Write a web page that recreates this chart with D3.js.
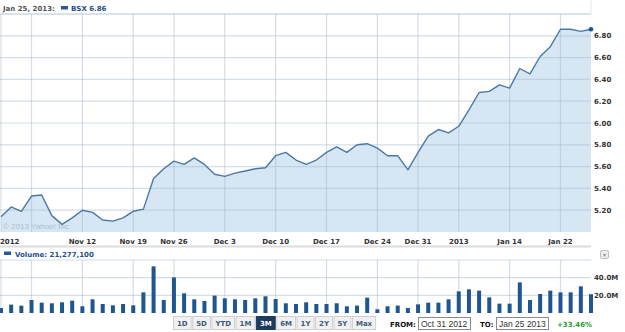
<!DOCTYPE html>
<html>
<head>
<meta charset="utf-8">
<script src="https://cdn.jsdelivr.net/npm/d3@7"></script>
<style>
  body { margin: 0; background: #fff; }
  svg { display: block; font-family: "DejaVu Sans", Verdana, sans-serif; }
  .lbl { font-size: 7px; font-weight: bold; fill: #333; }
</style>
</head>
<body>
<div id="chart"></div>
<script>
const width = 625;
const height = 332;

// trading days, Oct 31 2012 - Jan 25 2013
const dates = [
  '2012-10-31', '2012-11-01', '2012-11-02',
  '2012-11-05', '2012-11-06', '2012-11-07', '2012-11-08', '2012-11-09',
  '2012-11-12', '2012-11-13', '2012-11-14', '2012-11-15', '2012-11-16',
  '2012-11-19', '2012-11-20', '2012-11-21', '2012-11-23',
  '2012-11-26', '2012-11-27', '2012-11-28', '2012-11-29', '2012-11-30',
  '2012-12-03', '2012-12-04', '2012-12-05', '2012-12-06', '2012-12-07',
  '2012-12-10', '2012-12-11', '2012-12-12', '2012-12-13', '2012-12-14',
  '2012-12-17', '2012-12-18', '2012-12-19', '2012-12-20', '2012-12-21',
  '2012-12-24', '2012-12-26', '2012-12-27', '2012-12-28',
  '2012-12-31', '2013-01-02', '2013-01-03', '2013-01-04',
  '2013-01-07', '2013-01-08', '2013-01-09', '2013-01-10', '2013-01-11',
  '2013-01-14', '2013-01-15', '2013-01-16', '2013-01-17', '2013-01-18',
  '2013-01-22', '2013-01-23', '2013-01-24', '2013-01-25'
];

const prices = [
  5.14, 5.23, 5.19, 5.33, 5.34, 5.15, 5.07, 5.13, 5.20, 5.18,
  5.11, 5.10, 5.13, 5.19, 5.21, 5.49, 5.58, 5.65, 5.62, 5.68,
  5.62, 5.53, 5.51, 5.54, 5.56, 5.58, 5.59, 5.70, 5.73, 5.66,
  5.62, 5.66, 5.73, 5.78, 5.73, 5.80, 5.81, 5.77, 5.70, 5.70,
  5.57, 5.73, 5.88, 5.94, 5.91, 5.97, 6.12, 6.28, 6.29, 6.35,
  6.32, 6.50, 6.45, 6.61, 6.70, 6.86, 6.86, 6.84, 6.86
];

// millions of shares
const volumes = [
  5.6, 9.5, 8.3, 14.7, 11.7, 11.0, 12.1, 14.0, 7.6, 15.5,
  10.2, 8.7, 10.2, 8.7, 23.4, 52.8, 14.7, 40.3, 22.3, 15.5,
  13.6, 19.7, 16.6, 15.5, 14.7, 16.6, 18.9, 15.8, 11.0, 10.2,
  12.1, 10.2, 10.2, 11.0, 7.6, 8.4, 17.4, 4.2, 7.6, 8.4,
  5.6, 9.8, 11.7, 11.7, 15.5, 24.5, 26.8, 25.3, 17.7, 10.6,
  10.6, 34.7, 14.7, 21.5, 25.3, 23.4, 23.4, 30.2, 21.3
];

const gridDates = ['2012-10-31', '2012-11-05', '2012-11-12', '2012-11-19', '2012-11-26',
  '2012-12-03', '2012-12-10', '2012-12-17', '2012-12-24', '2012-12-31',
  '2013-01-07', '2013-01-14', '2013-01-22'];
const tickDates = ['2012-11-12', '2012-11-19', '2012-11-26', '2012-12-03', '2012-12-10',
  '2012-12-17', '2012-12-24', '2012-12-31', '2013-01-07', '2013-01-14', '2013-01-22'];
const tickLabels = ['Nov 12', 'Nov 19', 'Nov 26', 'Dec 3', 'Dec 10',
  'Dec 17', 'Dec 24', 'Dec 31', '2013', 'Jan 14', 'Jan 22'];
const priceTicks = [5.20, 5.40, 5.60, 5.80, 6.00, 6.20, 6.40, 6.60, 6.80];
const volumeTicks = [20, 40];
const ranges = ['1D', '5D', 'YTD', '1M', '3M', '6M', '1Y', '2Y', '5Y', 'Max'];

const svg = d3.select('#chart').append('svg')
  .attr('width', width)
  .attr('height', height);

const plot = { left: 1, right: 591, top: 14, bottom: 232 };
const vol = { top: 260, bottom: 313 };

const x = d3.scalePoint().domain(dates).range([plot.left, plot.right]);
const y = d3.scaleLinear().domain([5.0, 7.0]).range([plot.bottom, plot.top]);
const yv = d3.scaleLinear().domain([0, 60]).range([vol.bottom, vol.top]);

// header
svg.append('line').attr('x1', 0).attr('x2', plot.right).attr('y1', plot.top).attr('y2', plot.top)
  .attr('stroke', '#d9e1e9');
svg.append('line').attr('x1', plot.right).attr('x2', plot.right).attr('y1', 0).attr('y2', plot.top)
  .attr('stroke', '#e6e6e6');
svg.append('text').attr('class', 'lbl').attr('x', 3).attr('y', 11)
  .style('fill', '#555').text('Jan 25, 2013:');
svg.append('rect').attr('x', 61).attr('y', 6).attr('width', 7).attr('height', 3.5).attr('fill', '#2a5a95');
svg.append('text').attr('class', 'lbl').attr('x', 71).attr('y', 11)
  .style('fill', '#1f4f8e').text('BSX ' + prices[prices.length - 1].toFixed(2));

// price area + line
const area = d3.area()
  .x((d, i) => x(dates[i]))
  .y0(plot.bottom)
  .y1(d => y(d));
svg.append('path').datum(prices).attr('d', area).attr('fill', '#d6e6f2');

// grid drawn on top of the fill
const gridColor = 'rgba(160,185,210,0.48)';
const grid = svg.append('g');
grid.selectAll('.vg').data(gridDates).join('line')
  .attr('x1', d => x(d)).attr('x2', d => x(d))
  .attr('y1', plot.top).attr('y2', plot.bottom)
  .attr('stroke', gridColor).attr('stroke-width', 1.2);
grid.selectAll('.hg').data([...priceTicks, 7.0]).join('line')
  .attr('x1', 0).attr('x2', plot.right)
  .attr('y1', d => y(d)).attr('y2', d => y(d))
  .attr('stroke', gridColor).attr('stroke-width', 1.2);

svg.append('text').attr('x', 3).attr('y', 229)
  .style('font-family', '"Liberation Sans", Arial, sans-serif')
  .style('font-size', '8px').style('fill', '#adbfcf')
  .text('\u00a9 2013 Yahoo! Inc.');

const line = d3.line().x((d, i) => x(dates[i])).y(d => y(d));
svg.append('path').datum(prices).attr('d', line)
  .attr('fill', 'none').attr('stroke', '#4a78a9').attr('stroke-width', 1.4)
  .attr('stroke-linejoin', 'round');
svg.append('circle')
  .attr('cx', x(dates[dates.length - 1])).attr('cy', y(prices[prices.length - 1]))
  .attr('r', 2.3).attr('fill', '#1f5591');

// price axis labels
svg.append('g').selectAll('text').data(priceTicks).join('text')
  .attr('class', 'lbl').attr('x', 594).attr('y', d => y(d)).attr('dy', '0.36em')
  .text(d => d.toFixed(2));

// date labels
svg.append('g').selectAll('text').data(tickDates).join('text')
  .attr('class', 'lbl').attr('x', d => x(d)).attr('y', 244)
  .attr('text-anchor', 'middle')
  .text((d, i) => tickLabels[i]);
svg.append('text').attr('class', 'lbl').attr('x', 0).attr('y', 244).text('2012');

// separator
svg.append('line').attr('x1', 0).attr('x2', plot.right).attr('y1', 246.5).attr('y2', 246.5)
  .attr('stroke', '#dcdcdc').attr('stroke-width', 2);

// volume header
svg.append('rect').attr('x', 4).attr('y', 251.5).attr('width', 7).attr('height', 3.5).attr('fill', '#2a5a95');
svg.append('text').attr('class', 'lbl').attr('x', 15).attr('y', 256.5)
  .style('fill', '#1f4f8e').text('Volume: 21,277,100');
svg.append('rect').attr('x', 600.5).attr('y', 250.5).attr('width', 8).attr('height', 8).attr('rx', 1.5)
  .attr('fill', '#f0f0f0').attr('stroke', '#bdbdbd');
svg.append('text').attr('x', 604.5).attr('y', 257).attr('text-anchor', 'middle')
  .style('font-size', '6px').style('fill', '#666').text('\u00d7');

// volume grid
const vgrid = svg.append('g');
vgrid.selectAll('.vg').data(gridDates).join('line')
  .attr('x1', d => x(d)).attr('x2', d => x(d))
  .attr('y1', vol.top).attr('y2', vol.bottom)
  .attr('stroke', gridColor).attr('stroke-width', 1.2);
vgrid.selectAll('.hg').data([20, 40, 60]).join('line')
  .attr('x1', 0).attr('x2', plot.right)
  .attr('y1', d => yv(d)).attr('y2', d => yv(d))
  .attr('stroke', gridColor).attr('stroke-width', 1.2);

// volume bars
const barW = 4;
svg.append('g').selectAll('rect').data(volumes).join('rect')
  .attr('x', (d, i) => Math.max(0, x(dates[i]) - barW / 2))
  .attr('width', (d, i) => Math.min(barW, x(dates[i]) + barW / 2))
  .attr('y', d => yv(d))
  .attr('height', d => vol.bottom - yv(d))
  .attr('fill', '#1f5591');

svg.append('g').selectAll('text').data(volumeTicks).join('text')
  .attr('class', 'lbl').attr('x', 594).attr('y', d => yv(d)).attr('dy', '0.36em')
  .text(d => d.toFixed(1) + 'M');

// range buttons
let bx = 173;
const btns = svg.append('g');
ranges.forEach(r => {
  const sel = r === '3M';
  const g = btns.append('g');
  const t = g.append('text').attr('class', 'lbl').attr('y', 326)
    .style('fill', sel ? '#fff' : '#3f5b7c').text(r);
  const w = t.node().getComputedTextLength() + 7;
  g.insert('rect', 'text').attr('x', bx + 0.5).attr('y', 316.5).attr('width', w).attr('height', 13)
    .attr('fill', sel ? '#1e3a5c' : '#f1f1f1').attr('stroke', sel ? '#1e3a5c' : '#cfcfcf');
  t.attr('x', bx + 0.5 + w / 2).attr('text-anchor', 'middle');
  bx += w + 1.5;
});

// date range inputs
svg.append('text').attr('class', 'lbl').attr('x', 390).attr('y', 327).style('fill', '#111').text('FROM:');
svg.append('rect').attr('x', 418.5).attr('y', 317.5).attr('width', 52).attr('height', 12)
  .attr('fill', '#fff').attr('stroke', '#8a8a8a');
svg.append('text').attr('x', 421).attr('y', 327)
  .style('font-family', '"Liberation Sans", Arial, sans-serif').style('font-size', '8.5px').style('fill', '#333')
  .text('Oct 31 2012');
svg.append('text').attr('class', 'lbl').attr('x', 480).attr('y', 327).style('fill', '#111').text('TO:');
svg.append('rect').attr('x', 496.5).attr('y', 317.5).attr('width', 52).attr('height', 12)
  .attr('fill', '#fff').attr('stroke', '#8a8a8a');
svg.append('text').attr('x', 499).attr('y', 327)
  .style('font-family', '"Liberation Sans", Arial, sans-serif').style('font-size', '8.5px').style('fill', '#333')
  .text('Jan 25 2013');
svg.append('text').attr('class', 'lbl').attr('x', 557).attr('y', 327).style('fill', '#2e9a35')
  .text('+33.46%');
</script>
</body>
</html>
